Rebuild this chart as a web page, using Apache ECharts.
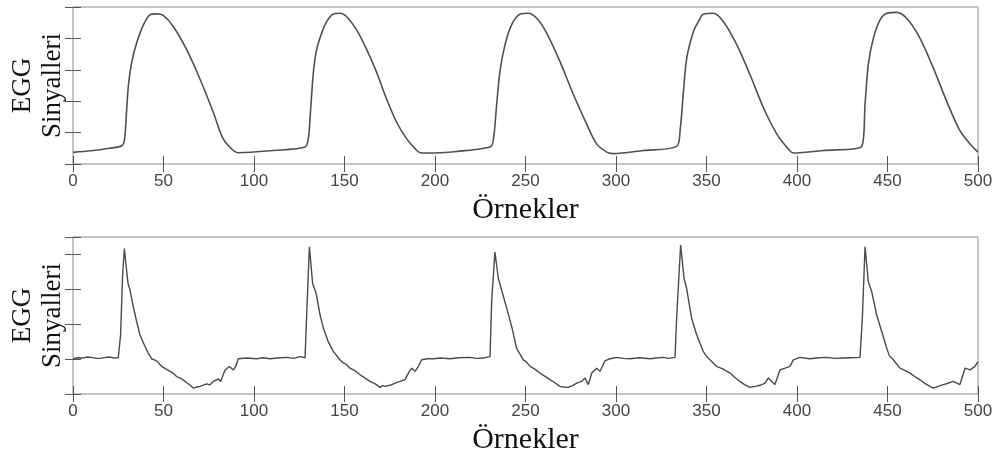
<!DOCTYPE html>
<html>
<head>
<meta charset="utf-8">
<script src="https://cdn.jsdelivr.net/npm/echarts@6/dist/echarts.min.js"></script>
<style>
html,body{margin:0;padding:0;background:#fff;}
#chart{width:997px;height:453px;}
</style>
</head>
<body>
<div id="chart"></div>
<script>
// X tick values and axis texts
var xTicks = [0, 50, 100, 150, 200, 250, 300, 350, 400, 450, 500];
var xName = 'Örnekler';
var yName = 'EGG\nSinyalleri';

// Top panel samples
var topX = [0,10,20,27,28.5,29.5,30.6,32.4,35.2,38.9,42.5,46.2,49.9,55.4,62.8,70.2,77.5,83,88.6,91.3,
  110.7,128.2,130,131.3,132.8,134.6,137.4,140.2,143.8,147.5,151.2,156.7,162.3,167.8,173.3,178.8,184.4,189,191.7,195.4,212,
  230.4,232.2,234.1,235.9,238.7,242.3,246.9,251.5,256.2,261.7,269,276.4,283.8,289.3,294.9,298.5,315.1,
  333.5,335.4,337.3,339.1,342.8,345.6,348.2,353.7,359.3,366.7,374,381.4,388.8,394.3,398,414.6,
  435.7,437.6,439.4,442.2,445.9,449.6,455.1,460.6,467.9,475.3,482.6,490,495.6,500];
var topY = [0.37,0.42,0.5,0.58,0.8,1.6,2.5,3.23,3.86,4.43,4.75,4.78,4.73,4.38,3.64,2.70,1.65,0.80,0.43,0.36,
  0.43,0.54,0.80,1.75,2.91,3.64,4.17,4.54,4.78,4.80,4.69,4.27,3.64,2.91,2.06,1.33,0.80,0.49,0.36,0.35,0.40,
  0.54,0.75,1.91,2.96,3.80,4.43,4.77,4.80,4.64,4.17,3.27,2.22,1.27,0.64,0.38,0.33,0.43,
  0.56,1.06,2.33,3.38,4.22,4.54,4.77,4.80,4.54,3.80,2.85,1.80,0.96,0.54,0.35,0.43,
  0.56,1.91,3.17,4.01,4.59,4.80,4.83,4.64,4.01,3.06,2.01,1.06,0.64,0.38];

// Bottom panel samples
var botX = [0,3,5,8,10,13,15,18,20,23,25,25.6,26.3,27.4,28.4,29.3,30.4,31.5,33.3,35.2,37,39.8,41.5,43.5,46.2,49,51,53.6,55.5,57.3,59.5,61.9,64,66.5,68.5,70.2,73.9,75.5,77.5,80.3,81.6,84,86.4,88.6,89.9,91.3,96,101.5,105,108.8,113,118,122,125.4,128.2,
  129.2,130.6,132.4,134.3,136.5,138.3,141,143.8,147.5,149.3,151,153,156,158.6,161,164.1,167,169.6,171,172.4,175.1,178,180.7,183.4,185.3,187.1,189,190.8,192.6,196,199,203,208.3,213,219.3,223,226.7,230.4,
  231.3,233.1,235,236.8,239.6,242.4,245.1,248.8,250.5,252.5,255,258,261,263.5,266,269,271,273.6,276,278.3,281,282.9,284.7,286.6,289.3,291.2,293.9,296.7,300.4,304,307.7,313,318.8,322,326.1,329,332.6,
  333.5,335.7,337.6,339,341.8,344.6,348.2,350,351.9,355.6,359,363,366,368.5,371,374,377,379.6,382.3,384.2,386,387.8,390.6,393.4,396.1,398,401.7,404,407.2,412,416.4,421,425.6,430,434.8,
  436.1,437.6,439.4,441.3,444,446.8,449.6,451,453.2,456.9,459.5,462.4,465,467.9,471,475.3,478,480.8,483,486.3,488,490,492.8,495.6,498.3,500];
var botY = [1.01,1.04,1.03,1.06,1.05,1.02,1.02,1.05,1.06,1.03,1.04,1.03,1.69,3.41,4.17,3.69,3.17,2.98,2.50,2.07,1.69,1.36,1.18,1.01,0.95,0.79,0.73,0.65,0.59,0.50,0.45,0.36,0.28,0.17,0.20,0.22,0.29,0.26,0.36,0.43,0.36,0.69,0.79,0.69,0.79,1.01,1.03,1.01,1.04,1.01,1.03,1.05,1.02,1.07,1.04,
  2.4,4.22,3.17,2.89,2.27,1.89,1.50,1.22,0.98,0.89,0.85,0.74,0.66,0.55,0.47,0.36,0.29,0.19,0.24,0.22,0.25,0.31,0.36,0.41,0.60,0.74,0.65,0.79,0.98,1.01,1.01,1.03,1.01,1.04,1.05,1.02,1.03,1.07,
  2.65,4.07,3.31,2.98,2.46,1.93,1.31,0.98,0.92,0.79,0.72,0.60,0.50,0.41,0.33,0.22,0.20,0.19,0.24,0.31,0.36,0.46,0.27,0.60,0.74,0.65,0.95,1.01,1.05,1.02,1.01,1.04,1.01,1.03,1.05,1.02,1.05,
  2.17,4.27,3.31,3.03,2.17,1.69,1.22,1.08,0.98,0.79,0.72,0.60,0.46,0.36,0.27,0.19,0.22,0.25,0.31,0.46,0.36,0.27,0.69,0.74,0.79,0.98,1.05,1.03,1.01,1.04,1.05,1.02,1.03,1.04,1.05,
  2.17,4.22,3.22,2.93,2.27,1.79,1.31,1.10,0.98,0.74,0.68,0.60,0.50,0.41,0.29,0.17,0.22,0.27,0.30,0.36,0.32,0.27,0.74,0.69,0.79,0.93];

var topData = topX.map(function(x,i){return [x, topY[i]];});
var botData = botX.map(function(x,i){return [x, botY[i]];});

var chart = echarts.init(document.getElementById('chart'), null, {renderer:'canvas'});
var tickStyle = {show:true, inside:true, length:8, lineStyle:{color:'#555', width:1}};
var serif = "'Liberation Serif','Times New Roman',serif";
var sans = "'Liberation Sans',Arial,Helvetica,sans-serif";

function xAx(grid, pos, labels){
  return {
    type:'value', gridIndex:grid, position:pos, min:xTicks[0], max:xTicks[xTicks.length-1], interval:50,
    axisLine:{show:false}, axisTick:tickStyle, splitLine:{show:false},
    axisLabel:{show:labels, fontFamily:sans, fontSize:17, color:'#444', margin:9},
    name: labels ? xName : '', nameLocation:'middle', nameGap:31,
    nameTextStyle:{fontFamily:serif, fontSize:30, color:'#111'}
  };
}
function yAx(grid, pos, max, withName){
  return {
    type:'value', gridIndex:grid, position:pos, min:0, max:max, interval:1,
    axisLine:{show:false}, axisTick:tickStyle, splitLine:{show:false},
    axisLabel:{show:false},
    name: withName ? yName : '', nameLocation:'middle', nameGap:5, nameRotate:90,
    nameTextStyle:{fontFamily:serif, fontSize:27, color:'#111', lineHeight:30}
  };
}

chart.setOption({
  backgroundColor:'#fff',
  animation:false,
  grid:[
    {left:73, top:7, width:905, height:157, containLabel:false, outerBoundsMode:'none', show:true, borderColor:'#8a8a8a', borderWidth:1, backgroundColor:'transparent'},
    {left:73, top:237, width:905, height:157, containLabel:false, outerBoundsMode:'none', show:true, borderColor:'#8a8a8a', borderWidth:1, backgroundColor:'transparent'}
  ],
  xAxis:[xAx(0,'bottom',true), xAx(0,'top',false), xAx(1,'bottom',true), xAx(1,'top',false)],
  yAxis:[yAx(0,'left',5,true), yAx(0,'right',5,false), yAx(1,'left',4.5,true), yAx(1,'right',4.5,false)],
  series:[
    {type:'line', xAxisIndex:0, yAxisIndex:0, data:topData, showSymbol:false, smooth:0.3,
     lineStyle:{color:'#505050', width:1.6}},
    {type:'line', xAxisIndex:2, yAxisIndex:2, data:botData, showSymbol:false,
     lineStyle:{color:'#4a4a4a', width:1.4}}
  ]
});
</script>
</body>
</html>
